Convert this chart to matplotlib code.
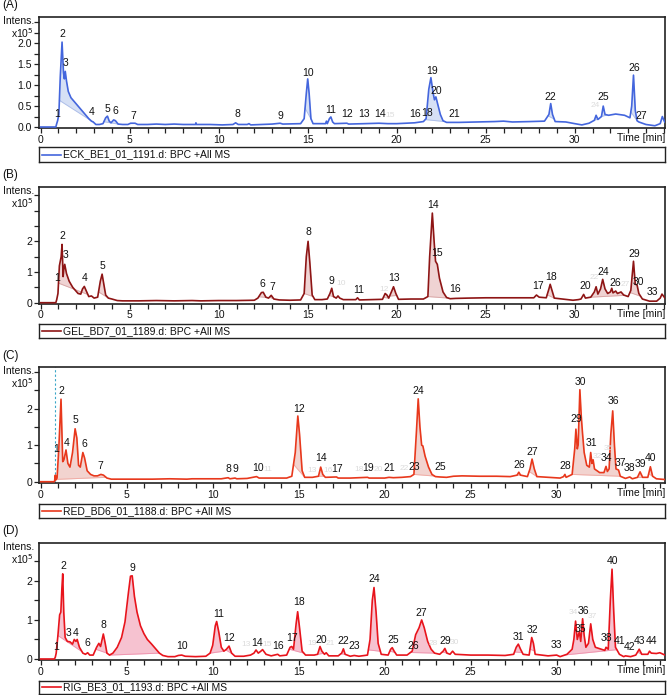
import matplotlib
matplotlib.use("Agg")
import matplotlib.pyplot as plt
import numpy as np

plt.rcParams['font.family'] = ['Liberation Sans', 'DejaVu Sans']

# ---------------- DATA (time [min], intensity [x1e5]) ----------------
a_trace = [(0.0, 0.0), (0.85, 0.0), (0.9, 0.08), (0.95, 0.15), (1.02, 0.3), (1.1, 1.2), (1.2, 2.03),
           (1.28, 1.3), (1.33, 1.15), (1.38, 1.33), (1.45, 1.1), (1.55, 0.85), (1.7, 0.7), (1.9, 0.6),
           (2.1, 0.5), (2.3, 0.4), (2.5, 0.3), (2.7, 0.2), (2.85, 0.14), (2.95, 0.12), (3.1, 0.06),
           (3.3, 0.06), (3.5, 0.08), (3.65, 0.22), (3.75, 0.26), (3.85, 0.14), (3.95, 0.1), (4.1, 0.17),
           (4.2, 0.15), (4.35, 0.07), (4.6, 0.06), (4.9, 0.06), (5.05, 0.09), (5.3, 0.09), (5.45, 0.06),
           (6.0, 0.06), (6.5, 0.07), (7.0, 0.06), (7.5, 0.07), (8.0, 0.06), (8.7, 0.06), (8.72, 0.1),
           (8.75, 0.06), (9.5, 0.06), (10.2, 0.05), (10.8, 0.06), (10.95, 0.1), (11.1, 0.06), (11.6, 0.06),
           (11.7, 0.08), (11.8, 0.05), (12.4, 0.06), (13.0, 0.07), (13.45, 0.09), (13.6, 0.07), (14.6, 0.08),
           (14.8, 0.2), (14.92, 0.8), (15.0, 1.15), (15.08, 0.8), (15.18, 0.2), (15.3, 0.08), (16.0, 0.08),
           (16.05, 0.14), (16.1, 0.08), (16.22, 0.2), (16.3, 0.24), (16.4, 0.12), (16.5, 0.08), (17.2, 0.09),
           (17.3, 0.07), (18.2, 0.08), (19.0, 0.09), (19.5, 0.08), (20.0, 0.08), (20.5, 0.09), (21.0, 0.1),
           (21.5, 0.13), (21.65, 0.2), (21.8, 0.9), (21.92, 1.18), (22.05, 0.8), (22.12, 0.65), (22.2, 0.72),
           (22.3, 0.55), (22.45, 0.3), (22.6, 0.15), (22.8, 0.11), (23.5, 0.11), (24.5, 0.12), (25.5, 0.13),
           (26.0, 0.14), (26.5, 0.12), (27.5, 0.13), (28.3, 0.14), (28.55, 0.3), (28.65, 0.56), (28.75, 0.3),
           (28.9, 0.13), (29.5, 0.12), (30.0, 0.08), (30.4, 0.05), (30.8, 0.09), (31.1, 0.16), (31.2, 0.28),
           (31.3, 0.18), (31.5, 0.25), (31.6, 0.5), (31.7, 0.3), (31.9, 0.28), (32.3, 0.31), (32.8, 0.28),
           (33.1, 0.22), (33.2, 0.5), (33.3, 1.24), (33.4, 0.4), (33.5, 0.15), (33.6, 0.12), (34.0, 0.06),
           (34.5, 0.03), (34.8, 0.08), (34.92, 0.25), (35.05, 0.12), (35.1, 0.1)]
a_fills = [(1.05, 2.95), (3.55, 4.35), (14.85, 15.2), (21.6, 22.7), (28.5, 28.85), (31.1, 31.35),
           (31.5, 31.8), (33.15, 33.5)]
a_ids = ['1', '2', '3', '4', '5', '6', '7', '8', '9', '10', '11', '12', '13', '14', '16', '18', '19',
         '20', '21', '22', '25', '26', '27']
a_lab_t = [0.93, 1.2, 1.42, 2.86, 3.74, 4.17, 5.2, 11.03, 13.45, 15.03, 16.3, 17.2, 18.18, 19.06, 21.03,
           21.72, 22.0, 22.2, 23.24, 28.65, 31.6, 33.33, 33.76]
a_lab_y = [0.19, 2.1, 1.41, 0.24, 0.31, 0.27, 0.15, 0.19, 0.15, 1.17, 0.29, 0.19, 0.19, 0.19, 0.19,
           0.21, 1.22, 0.74, 0.19, 0.59, 0.59, 1.29, 0.15]
a_faint_ids = ['15', '24']
a_faint_t = [19.6, 31.15]
a_faint_y = [0.19, 0.42]

b_trace = [(0.0, 0.0), (0.85, 0.0), (0.9, 0.1), (0.97, 0.3), (1.05, 1.2), (1.1, 1.35), (1.15, 1.5),
           (1.2, 1.9), (1.26, 0.85), (1.3, 1.1), (1.35, 1.25), (1.45, 0.95), (1.6, 0.7), (1.8, 0.5),
           (1.95, 0.4), (2.1, 0.3), (2.25, 0.28), (2.35, 0.45), (2.45, 0.53), (2.55, 0.4), (2.7, 0.2),
           (2.85, 0.22), (3.0, 0.15), (3.2, 0.18), (3.35, 0.7), (3.45, 0.93), (3.55, 0.6), (3.65, 0.25),
           (3.8, 0.15), (4.0, 0.12), (4.3, 0.07), (4.6, 0.06), (5.5, 0.06), (6.5, 0.07), (7.5, 0.06),
           (8.5, 0.07), (9.0, 0.06), (10.0, 0.07), (11.0, 0.07), (12.0, 0.08), (12.2, 0.15), (12.4, 0.33),
           (12.5, 0.34), (12.65, 0.18), (12.8, 0.15), (12.95, 0.24), (13.1, 0.12), (13.4, 0.09), (14.0, 0.08),
           (14.6, 0.09), (14.8, 0.3), (14.92, 1.5), (15.02, 2.0), (15.12, 1.3), (15.25, 0.25), (15.4, 0.1),
           (15.8, 0.1), (16.1, 0.12), (16.25, 0.3), (16.35, 0.47), (16.45, 0.2), (16.6, 0.15), (16.7, 0.22),
           (16.8, 0.15), (17.0, 0.1), (17.7, 0.1), (17.8, 0.16), (17.9, 0.09), (18.5, 0.1), (19.2, 0.11),
           (19.35, 0.3), (19.45, 0.25), (19.55, 0.15), (19.7, 0.35), (19.82, 0.52), (19.95, 0.3), (20.1, 0.11),
           (20.8, 0.12), (21.5, 0.12), (21.75, 0.2), (21.85, 1.5), (22.0, 2.92), (22.1, 2.0), (22.18, 1.35),
           (22.28, 1.25), (22.4, 0.8), (22.6, 0.35), (22.8, 0.17), (23.0, 0.13), (23.3, 0.14), (24.0, 0.15),
           (25.0, 0.16), (26.0, 0.16), (27.0, 0.16), (27.7, 0.16), (27.85, 0.25), (28.0, 0.18), (28.4, 0.16),
           (28.55, 0.45), (28.62, 0.6), (28.72, 0.4), (28.85, 0.15), (29.3, 0.12), (29.9, 0.08), (30.2, 0.1),
           (30.35, 0.12), (30.5, 0.27), (30.6, 0.15), (30.9, 0.18), (31.1, 0.35), (31.2, 0.52), (31.3, 0.28),
           (31.45, 0.45), (31.57, 0.76), (31.7, 0.45), (31.85, 0.3), (32.0, 0.35), (32.08, 0.47), (32.15, 0.32),
           (32.3, 0.38), (32.4, 0.3), (32.6, 0.35), (32.75, 0.25), (33.0, 0.2), (33.15, 0.4), (33.3, 1.35),
           (33.4, 0.6), (33.5, 0.58), (33.6, 0.3), (33.8, 0.12), (34.2, 0.05), (34.6, 0.05), (34.8, 0.15),
           (34.9, 0.28), (35.0, 0.2), (35.07, 0.15)]
b_fills = [(1.0, 2.65), (3.25, 3.8), (12.25, 12.7), (12.85, 13.1), (14.8, 15.3), (16.2, 16.5),
           (19.25, 19.55), (19.6, 20.0), (21.75, 22.9), (28.45, 28.85), (30.9, 32.8), (33.1, 33.7)]
b_ids = ['1', '2', '3', '4', '5', '6', '7', '8', '9', '11', '13', '14', '15', '16', '17', '18', '20',
         '24', '26', '29', '30', '33']
b_lab_t = [0.93, 1.2, 1.4, 2.47, 3.48, 12.45, 13.0, 15.03, 16.35, 17.84, 19.87, 22.02, 22.28, 23.28,
           27.92, 28.65, 30.58, 31.6, 32.3, 33.33, 33.57, 34.36]
b_lab_y = [0.63, 2.01, 1.39, 0.63, 1.04, 0.45, 0.34, 2.13, 0.54, 0.25, 0.63, 3.02, 1.45, 0.28, 0.38,
           0.68, 0.38, 0.85, 0.47, 1.41, 0.5, 0.18]
b_faint_ids = ['10', '12', '22', '27']
b_faint_t = [16.9, 19.3, 31.08, 32.85]
b_faint_y = [0.5, 0.33, 0.72, 0.47]

c_trace = [(0.0, 0.0), (0.8, 0.0), (0.85, 0.18), (0.88, 0.05), (0.95, 0.1), (1.05, 0.9), (1.18, 2.26),
           (1.28, 0.55), (1.35, 0.6), (1.47, 0.87), (1.58, 0.5), (1.7, 0.4), (1.85, 0.8), (2.0, 1.45),
           (2.1, 1.2), (2.2, 0.45), (2.3, 0.4), (2.45, 0.8), (2.55, 0.65), (2.7, 0.3), (2.9, 0.2),
           (3.1, 0.16), (3.3, 0.16), (3.5, 0.2), (3.65, 0.18), (3.85, 0.1), (4.1, 0.07), (4.5, 0.07),
           (5.5, 0.07), (6.5, 0.07), (7.5, 0.08), (8.5, 0.07), (8.8, 0.08), (9.5, 0.08), (10.5, 0.08),
           (10.9, 0.11), (11.0, 0.08), (11.3, 0.1), (11.4, 0.08), (12.0, 0.09), (12.55, 0.14), (12.7, 0.1),
           (13.5, 0.1), (14.3, 0.1), (14.6, 0.15), (14.8, 0.8), (14.95, 1.8), (15.05, 1.3), (15.2, 0.3),
           (15.35, 0.12), (15.8, 0.12), (16.15, 0.15), (16.28, 0.4), (16.4, 0.2), (16.55, 0.12), (17.2, 0.13),
           (17.3, 0.1), (18.0, 0.1), (19.0, 0.12), (19.1, 0.1), (20.0, 0.1), (20.25, 0.12), (20.5, 0.11),
           (21.0, 0.12), (21.5, 0.14), (21.7, 0.2), (21.85, 1.4), (21.95, 2.27), (22.05, 1.5), (22.15, 1.0),
           (22.22, 0.98), (22.35, 0.7), (22.55, 0.4), (22.75, 0.2), (22.95, 0.14), (23.2, 0.13), (23.6, 0.12),
           (24.0, 0.15), (24.5, 0.16), (25.5, 0.15), (26.5, 0.15), (27.3, 0.14), (27.7, 0.18), (27.8, 0.26),
           (27.9, 0.18), (28.3, 0.14), (28.45, 0.35), (28.57, 0.62), (28.7, 0.35), (28.85, 0.14), (29.5, 0.12),
           (30.2, 0.1), (30.4, 0.14), (30.48, 0.2), (30.55, 0.12), (30.9, 0.2), (31.05, 0.9), (31.12, 1.44),
           (31.2, 0.9), (31.25, 1.0), (31.35, 2.52), (31.43, 1.8), (31.5, 1.35), (31.6, 0.8), (31.75, 0.45),
           (31.9, 0.4), (31.98, 0.8), (32.05, 0.5), (32.12, 0.6), (32.2, 0.35), (32.5, 0.25), (32.75, 0.25),
           (32.87, 0.42), (32.95, 0.28), (33.05, 0.35), (33.15, 1.3), (33.26, 1.94), (33.36, 1.0),
           (33.45, 0.35), (33.6, 0.32), (33.7, 0.15), (34.0, 0.09), (34.25, 0.13), (34.4, 0.08), (34.7, 0.12),
           (34.85, 0.27), (35.0, 0.12), (35.3, 0.12), (35.45, 0.41), (35.58, 0.15), (35.8, 0.08), (36.3, 0.06)]
c_fills = [(0.9, 3.8), (14.7, 15.35), (16.15, 16.5), (21.7, 22.9), (27.7, 27.95), (28.4, 28.85),
           (30.9, 33.7), (34.7, 35.0), (35.35, 35.6)]
c_ids = ['1', '2', '4', '5', '6', '7', '8', '9', '10', '12', '14', '17', '19', '21', '23', '24', '25',
         '26', '27', '28', '29', '30', '31', '34', '36', '37', '38', '39', '40']
c_lab_t = [0.89, 1.18, 1.51, 2.03, 2.52, 3.49, 10.91, 11.31, 12.62, 15.02, 16.3, 17.25, 19.05, 20.27,
           21.72, 21.95, 23.22, 27.83, 28.6, 30.48, 31.12, 31.4, 32.03, 32.87, 33.29, 33.68, 34.26, 34.9,
           35.48]
c_lab_y = [0.75, 2.35, 0.92, 1.55, 0.9, 0.29, 0.2, 0.2, 0.23, 1.85, 0.5, 0.2, 0.23, 0.23, 0.26, 2.36,
           0.26, 0.32, 0.67, 0.29, 1.57, 2.6, 0.92, 0.5, 2.07, 0.37, 0.23, 0.35, 0.5]
c_faint_ids = ['11', '13', '16', '18', '20', '22', '32', '35']
c_faint_t = [13.2, 15.8, 16.7, 18.5, 19.65, 21.15, 32.35, 33.0]
c_faint_y = [0.23, 0.2, 0.2, 0.23, 0.23, 0.26, 0.6, 0.82]

d_trace = [(0.0, 0.0), (0.8, 0.0), (0.85, 0.05), (0.9, 0.15), (1.0, 0.6), (1.1, 1.13), (1.17, 1.2),
           (1.23, 1.8), (1.28, 2.18), (1.34, 1.2), (1.42, 0.55), (1.55, 0.45), (1.7, 0.44), (1.85, 0.38),
           (1.95, 0.5), (2.05, 0.45), (2.12, 0.5), (2.25, 0.3), (2.45, 0.15), (2.6, 0.12), (2.73, 0.16),
           (2.85, 0.1), (3.05, 0.1), (3.25, 0.3), (3.38, 0.4), (3.48, 0.32), (3.64, 0.64), (3.75, 0.4),
           (3.85, 0.15), (4.0, 0.1), (4.2, 0.15), (4.45, 0.3), (4.7, 0.55), (4.9, 0.95), (5.1, 1.7),
           (5.22, 2.12), (5.32, 2.13), (5.45, 1.6), (5.6, 1.2), (5.8, 0.85), (6.0, 0.65), (6.2, 0.5),
           (6.45, 0.38), (6.7, 0.25), (6.9, 0.15), (7.1, 0.09), (7.4, 0.06), (7.8, 0.06), (8.0, 0.09),
           (8.2, 0.1), (8.4, 0.07), (9.0, 0.06), (9.6, 0.07), (9.85, 0.15), (10.0, 0.35), (10.15, 0.85),
           (10.23, 0.96), (10.35, 0.7), (10.5, 0.3), (10.65, 0.2), (10.8, 0.25), (10.95, 0.33), (11.1, 0.15),
           (11.3, 0.07), (11.8, 0.07), (12.2, 0.1), (12.4, 0.15), (12.52, 0.23), (12.65, 0.15), (12.8, 0.2),
           (12.9, 0.24), (13.1, 0.12), (13.4, 0.08), (13.78, 0.12), (13.9, 0.08), (14.3, 0.1), (14.5, 0.3),
           (14.6, 0.32), (14.7, 0.25), (14.85, 0.9), (14.94, 1.21), (15.05, 0.8), (15.2, 0.2), (15.4, 0.1),
           (15.9, 0.1), (16.1, 0.12), (16.24, 0.32), (16.35, 0.2), (16.5, 0.12), (16.6, 0.16), (16.75, 0.08),
           (17.3, 0.08), (17.5, 0.15), (17.6, 0.26), (17.7, 0.12), (18.0, 0.07), (18.23, 0.09), (18.5, 0.07),
           (19.0, 0.1), (19.15, 0.5), (19.28, 1.5), (19.38, 1.83), (19.5, 1.2), (19.62, 0.4), (19.8, 0.12),
           (20.2, 0.1), (20.35, 0.25), (20.44, 0.29), (20.55, 0.2), (20.7, 0.1), (21.3, 0.1), (21.6, 0.2),
           (21.8, 0.62), (22.0, 0.8), (22.15, 1.0), (22.3, 0.8), (22.5, 0.45), (22.7, 0.25), (22.9, 0.15),
           (23.2, 0.12), (23.4, 0.2), (23.5, 0.27), (23.62, 0.15), (23.8, 0.12), (23.95, 0.2), (24.1, 0.12),
           (24.6, 0.11), (25.0, 0.1), (26.0, 0.1), (27.0, 0.09), (27.5, 0.12), (27.65, 0.3), (27.77, 0.38),
           (27.9, 0.25), (28.05, 0.12), (28.4, 0.1), (28.5, 0.4), (28.55, 0.55), (28.65, 0.4), (28.75, 0.12),
           (29.5, 0.08), (30.0, 0.1), (30.2, 0.06), (30.6, 0.12), (30.9, 0.25), (31.0, 0.5), (31.1, 0.97),
           (31.2, 0.5), (31.32, 0.7), (31.4, 0.45), (31.51, 1.03), (31.6, 0.6), (31.7, 0.3), (31.85, 0.4),
           (31.98, 0.9), (32.1, 0.5), (32.25, 0.3), (32.6, 0.25), (32.8, 0.22), (32.87, 0.3), (33.0, 0.25),
           (33.12, 1.5), (33.22, 2.3), (33.32, 1.2), (33.42, 0.3), (33.55, 0.2), (33.65, 0.12), (33.9, 0.06),
           (34.0, 0.08), (34.3, 0.06), (34.6, 0.1), (34.8, 0.25), (34.95, 0.12), (35.3, 0.12), (35.4, 0.2),
           (35.5, 0.15), (35.8, 0.14), (36.0, 0.16), (36.3, 0.1)]
d_fills = [(1.0, 2.4), (3.2, 3.85), (4.0, 6.9), (9.85, 10.65), (10.75, 11.15), (14.45, 15.3),
           (16.1, 16.45), (17.45, 17.72), (19.05, 19.75), (20.3, 20.6), (21.5, 22.9), (23.35, 23.65),
           (27.55, 28.0), (28.45, 28.72), (30.5, 33.5), (34.7, 34.95)]
d_ids = ['1', '2', '3', '4', '6', '8', '9', '10', '11', '12', '14', '16', '17', '18', '20', '22', '23',
         '24', '25', '26', '27', '29', '31', '32', '33', '35', '36', '38', '40', '41', '42', '43', '44']
d_lab_t = [0.89, 1.31, 1.64, 2.01, 2.73, 3.64, 5.33, 8.2, 10.33, 10.95, 12.56, 13.78, 14.59, 15.02, 16.3,
           17.6, 18.23, 19.4, 20.47, 21.66, 22.15, 23.5, 27.77, 28.6, 30.0, 31.4, 31.55, 32.9, 33.26,
           33.68, 34.26, 34.84, 35.52]
d_lab_y = [0.19, 2.26, 0.55, 0.55, 0.27, 0.74, 2.21, 0.2, 1.02, 0.4, 0.29, 0.2, 0.4, 1.32, 0.36, 0.32,
           0.2, 1.92, 0.36, 0.21, 1.06, 0.34, 0.44, 0.62, 0.23, 0.63, 1.11, 0.4, 2.37, 0.32, 0.19, 0.34, 0.34]
d_faint_ids = ['13', '15', '19', '21', '28', '30', '34', '37']
d_faint_t = [11.95, 13.15, 15.75, 16.85, 22.8, 24.05, 30.98, 32.1]
d_faint_y = [0.29, 0.29, 0.3, 0.3, 0.3, 0.34, 1.1, 1.0]

legend_texts = ['ECK_BE1_01_1191.d: BPC +All MS', 'GEL_BD7_01_1189.d: BPC +All MS',
                'RED_BD6_01_1188.d: BPC +All MS', 'RIG_BE3_01_1193.d: BPC +All MS']
panel_letters = ['(A)', '(B)', '(C)', '(D)']
x_major = [0, 5, 10, 15, 20, 25, 30]

# ---------------- LAYOUT / STYLE ----------------
W, H = 667, 695
fig = plt.figure(figsize=(W / 100, H / 100), dpi=100)

panels = [
    dict(trace=a_trace, fills=a_fills, ids=a_ids, lt=a_lab_t, ly=a_lab_y, fids=a_faint_ids, ft=a_faint_t,
         fyv=a_faint_y, top=17, bot=128, ylim=(-0.024, 2.63), xlim=(-0.095, 35.07),
         yticks=np.arange(0, 2.51, 0.25), ylabels={0: '0.0', 0.5: '0.5', 1.0: '1.0', 1.5: '1.5', 2.0: '2.0'},
         color='#4466dd', fill='#d6e0f5', edge='#aebfe9', leg=(147, 162), lab_y=5, intens=(20.7, 33),
         dashed=False),
    dict(trace=b_trace, fills=b_fills, ids=b_ids, lt=b_lab_t, ly=b_lab_y, fids=b_faint_ids, ft=b_faint_t,
         fyv=b_faint_y, top=187, bot=303.5, ylim=(-0.026, 3.77), xlim=(-0.095, 35.07),
         yticks=np.arange(0, 3.51, 0.5), ylabels={0: '0', 1: '1', 2: '2'},
         color='#8e1515', fill='#efd3d3', edge='#d9a8a8', leg=(324, 338), lab_y=175, intens=(190.7, 203.3),
         dashed=False),
    dict(trace=c_trace, fills=c_fills, ids=c_ids, lt=c_lab_t, ly=c_lab_y, fids=c_faint_ids, ft=c_faint_t,
         fyv=c_faint_y, top=366.7, bot=482.7, ylim=(-0.027, 3.15), xlim=(-0.1, 36.3),
         yticks=np.arange(0, 3.01, 0.5), ylabels={0: '0', 1: '1', 2: '2'},
         color='#e8381c', fill='#f2d3cf', edge='#f0aca5', leg=(504, 518), lab_y=356, intens=(371, 382.7),
         dashed=True),
    dict(trace=d_trace, fills=d_fills, ids=d_ids, lt=d_lab_t, ly=d_lab_y, fids=d_faint_ids, ft=d_faint_t,
         fyv=d_faint_y, top=543, bot=660, ylim=(-0.026, 2.97), xlim=(-0.1, 36.3),
         yticks=np.arange(0, 2.51, 0.5), ylabels={0: '0', 1: '1', 2: '2'},
         color='#e8141c', fill='#f6c2d0', edge='#ef96b0', leg=(680.7, 694), lab_y=531, intens=(547.3, 559.3),
         dashed=False),
]

L, R = 39, 665
FS = 7.5
FS_FAINT = 6.0
SPINE = '#222222'

for i, p in enumerate(panels):
    ax = fig.add_axes([L / W, 1 - p['bot'] / H, (R - L) / W, (p['bot'] - p['top']) / H])
    t = np.array([q[0] for q in p['trace']])
    y = np.array([q[1] for q in p['trace']])

    for (t0, t1) in p['fills']:
        y0 = np.interp(t0, t, y)
        y1 = np.interp(t1, t, y)
        inner = (t > t0) & (t < t1)
        xs = np.concatenate([[t0], t[inner], [t1]])
        ys = np.concatenate([[y0], y[inner], [y1]])
        base = y0 + (y1 - y0) * (xs - t0) / (t1 - t0)
        ax.fill_between(xs, base, ys, color=p['fill'], lw=0, zorder=1)
        ax.plot([t0, t1], [y0, y1], color=p['edge'], lw=0.7, zorder=1.5)

    ax.plot(t, y, color=p['color'], lw=1.2, zorder=3)
    if p['dashed']:
        ax.axvline(0.85, color='#3aa6c8', lw=0.8, ls=(0, (2, 2)), zorder=2)

    for s, lt, ly in zip(p['fids'], p['ft'], p['fyv']):
        ax.text(lt, ly, s, fontsize=FS_FAINT, color='#dcdcdc', ha='center', va='bottom', zorder=4)
    for s, lt, ly in zip(p['ids'], p['lt'], p['ly']):
        ax.text(lt, ly, s, fontsize=FS, color='#111111', ha='center', va='bottom', zorder=5)

    ax.set_xlim(*p['xlim'])
    ax.set_ylim(*p['ylim'])
    ax.set_xticks(x_major)
    ax.set_xticklabels([str(v) for v in x_major])
    ax.set_xticks(np.arange(1, int(p['xlim'][1]) + 1, 1), minor=True)
    ax.set_yticks(p['yticks'])
    ax.set_yticklabels([p['ylabels'].get(round(v, 2), '') for v in p['yticks']])
    ax.tick_params(axis='both', which='both', direction='out', length=3.5, width=0.9, color=SPINE,
                   labelsize=FS, pad=1.5, labelcolor='#111111')
    for sp in ax.spines.values():
        sp.set_color(SPINE)
        sp.set_linewidth(1.2)
    ax.text(1.0, -0.045, 'Time [min]', transform=ax.transAxes, ha='right', va='top', fontsize=FS,
            color='#111111')

    fig.text(34 / W, 1 - p['intens'][0] / H, 'Intens.', ha='right', va='center', fontsize=FS,
             color='#111111')
    fig.text(34 / W, 1 - p['intens'][1] / H, r'x10$^5$', ha='right', va='center', fontsize=FS,
             color='#111111')
    fig.text(2 / W, 1 - p['lab_y'] / H, panel_letters[i], ha='left', va='center', fontsize=8.5,
             color='#111111')

    # legend box
    lb0, lb1 = p['leg']
    lax = fig.add_axes([L / W, 1 - lb1 / H, (R - L) / W, (lb1 - lb0) / H])
    lax.set_xlim(0, 1)
    lax.set_ylim(0, 1)
    lax.set_xticks([])
    lax.set_yticks([])
    for sp in lax.spines.values():
        sp.set_color(SPINE)
        sp.set_linewidth(1.0)
    lax.plot([0.005, 0.035], [0.5, 0.5], color=p['color'], lw=1.2)
    lax.text(0.038, 0.5, legend_texts[i], ha='left', va='center', fontsize=FS, color='#111111')

fig.savefig('out.png', dpi=100)
